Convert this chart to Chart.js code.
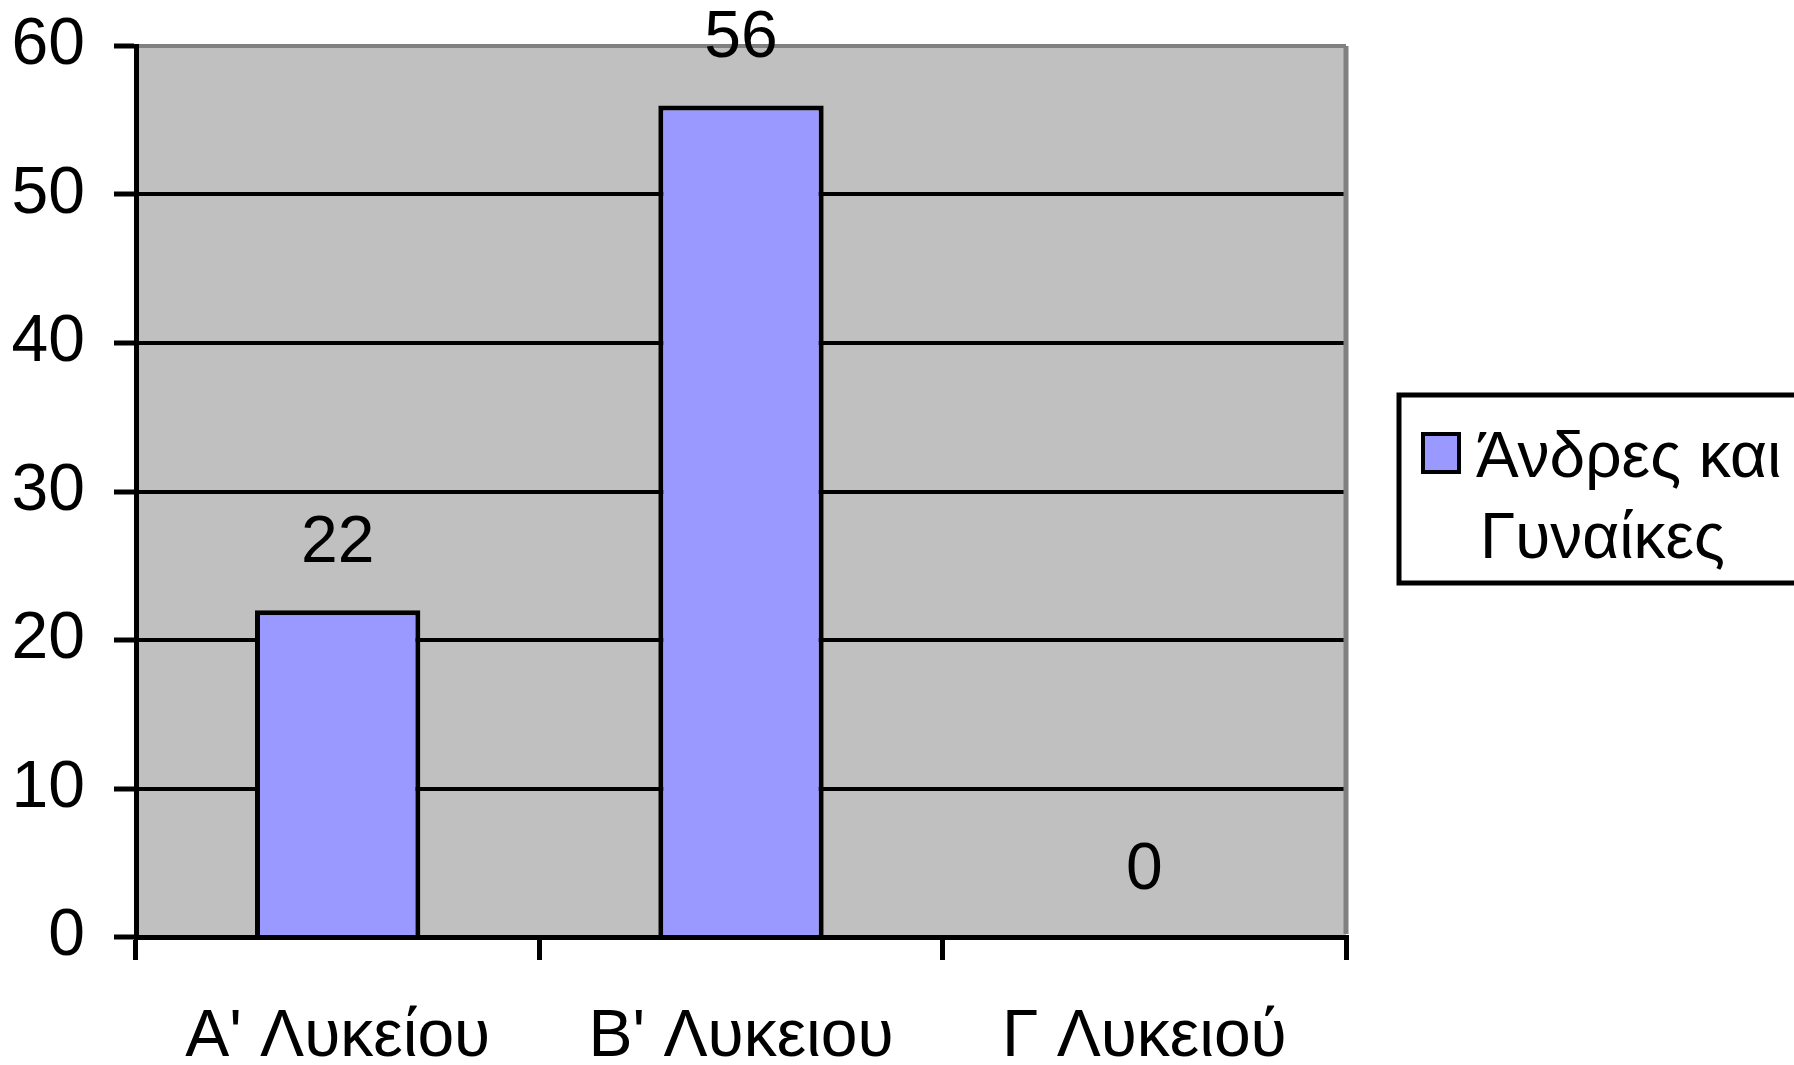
<!DOCTYPE html>
<html>
<head>
<meta charset="utf-8">
<script src="https://cdn.jsdelivr.net/npm/chart.js@4/dist/chart.umd.min.js"></script>
<style>
  html, body { margin: 0; padding: 0; background: #fff; }
  #wrap { width: 1794px; height: 1065px; }
</style>
</head>
<body>
<div id="wrap"><canvas id="chart" width="1794" height="1065"></canvas></div>
<script>
const categories = ["A' Λυκείου", "B' Λυκειου", "Γ Λυκειού"]
const values = [22, 56, 0]
const seriesLabel = "Άνδρες και Γυναίκες"
const yTicks = [0, 10, 20, 30, 40, 50, 60]

const FONT = "'Liberation Sans', Arial, sans-serif"
const FS = 66
const barFill = "#9999FF"

// grey plot area + right border
const plotBg = {
  id: "plotBg",
  beforeDraw(chart) {
    const { ctx, chartArea: a } = chart
    ctx.save()
    ctx.fillStyle = "#C0C0C0"
    ctx.fillRect(a.left, a.top, a.right - a.left, a.bottom - a.top)
    ctx.restore()
  },
  afterDraw(chart) {
    const { ctx, chartArea: a } = chart
    ctx.save()
    ctx.strokeStyle = "#808080"
    ctx.lineWidth = 5
    ctx.beginPath()
    ctx.moveTo(a.right, a.top)
    ctx.lineTo(a.right, a.bottom - 3)
    ctx.stroke()
    ctx.restore()
  },
}

// numbers above the bars
const valueLabels = {
  id: "valueLabels",
  afterDatasetsDraw(chart) {
    const { ctx } = chart
    const meta = chart.getDatasetMeta(0)
    ctx.save()
    ctx.font = FS + "px " + FONT
    ctx.fillStyle = "#000"
    ctx.textAlign = "center"
    ctx.textBaseline = "alphabetic"
    meta.data.forEach((bar, i) => {
      ctx.fillText(String(values[i]), bar.x, bar.y - 48)
    })
    ctx.restore()
  },
}

// boxed legend on the right, text wrapped
const boxLegend = {
  id: "boxLegend",
  afterDraw(chart) {
    const { ctx } = chart
    const ds = chart.data.datasets[0]
    ctx.save()
    ctx.font = "64px " + FONT
    // wrap the label
    const words = ds.label.split(" ")
    const lines = []
    let cur = ""
    words.forEach(w => {
      const t = cur ? cur + " " + w : w
      if (cur && ctx.measureText(t).width > 330) {
        lines.push(cur)
        cur = w
      } else cur = t
    })
    if (cur) lines.push(cur)

    ctx.fillStyle = "#fff"
    ctx.fillRect(1397, 393, 420, 192)
    ctx.strokeStyle = "#000"
    ctx.lineWidth = 5
    ctx.strokeRect(1399, 395, 420, 188)

    ctx.fillStyle = ds.backgroundColor
    ctx.fillRect(1423, 434, 36, 38)
    ctx.lineWidth = 4
    ctx.strokeRect(1423, 434, 36, 38)

    ctx.fillStyle = "#000"
    ctx.textAlign = "left"
    ctx.textBaseline = "alphabetic"
    lines.forEach((l, i) => {
      ctx.fillText(l, i === 0 ? 1476 : 1480, 477 + i * 81)
    })
    ctx.restore()
  },
}

new Chart(document.getElementById("chart"), {
  type: "bar",
  data: {
    labels: categories,
    datasets: [
      {
        label: seriesLabel,
        data: values,
        backgroundColor: barFill,
        borderColor: "#000",
        borderWidth: 5,
        categoryPercentage: 1,
        barPercentage: 0.41,
      },
    ],
  },
  options: {
    responsive: false,
    animation: false,
    layout: { padding: { top: 46, right: 448, left: 0, bottom: 0 } },
    plugins: {
      legend: { display: false },
      tooltip: { enabled: false },
    },
    scales: {
      x: {
        grid: {
          offset: true,
          drawOnChartArea: false,
          drawTicks: true,
          tickLength: 23,
          tickColor: "#000",
          tickWidth: 5,
          lineWidth: 5,
        },
        border: { color: "#000", width: 5 },
        ticks: {
          color: "#000",
          font: { family: FONT, size: FS },
          padding: 38,
          maxRotation: 0,
        },
        afterFit(scale) {
          scale.height = 128
          scale.paddingLeft = 0
          scale.paddingRight = 0
        },
      },
      y: {
        min: 0,
        max: 60,
        afterBuildTicks(scale) {
          scale.ticks = yTicks.map(v => ({ value: v }))
        },
        grid: {
          color: ctx => (ctx.tick && ctx.tick.value === 60 ? "#808080" : "#000"),
          lineWidth: 4,
          tickLength: 22,
          tickColor: "#000",
          tickWidth: 5,
        },
        border: { color: "#000", width: 5 },
        ticks: {
          color: "#000",
          font: { family: FONT, size: FS },
          padding: 29,
        },
        afterFit(scale) {
          scale.width = 136
          scale.paddingTop = 0
          scale.paddingBottom = 0
        },
      },
    },
  },
  plugins: [plotBg, valueLabels, boxLegend],
})
</script>
</body>
</html>
